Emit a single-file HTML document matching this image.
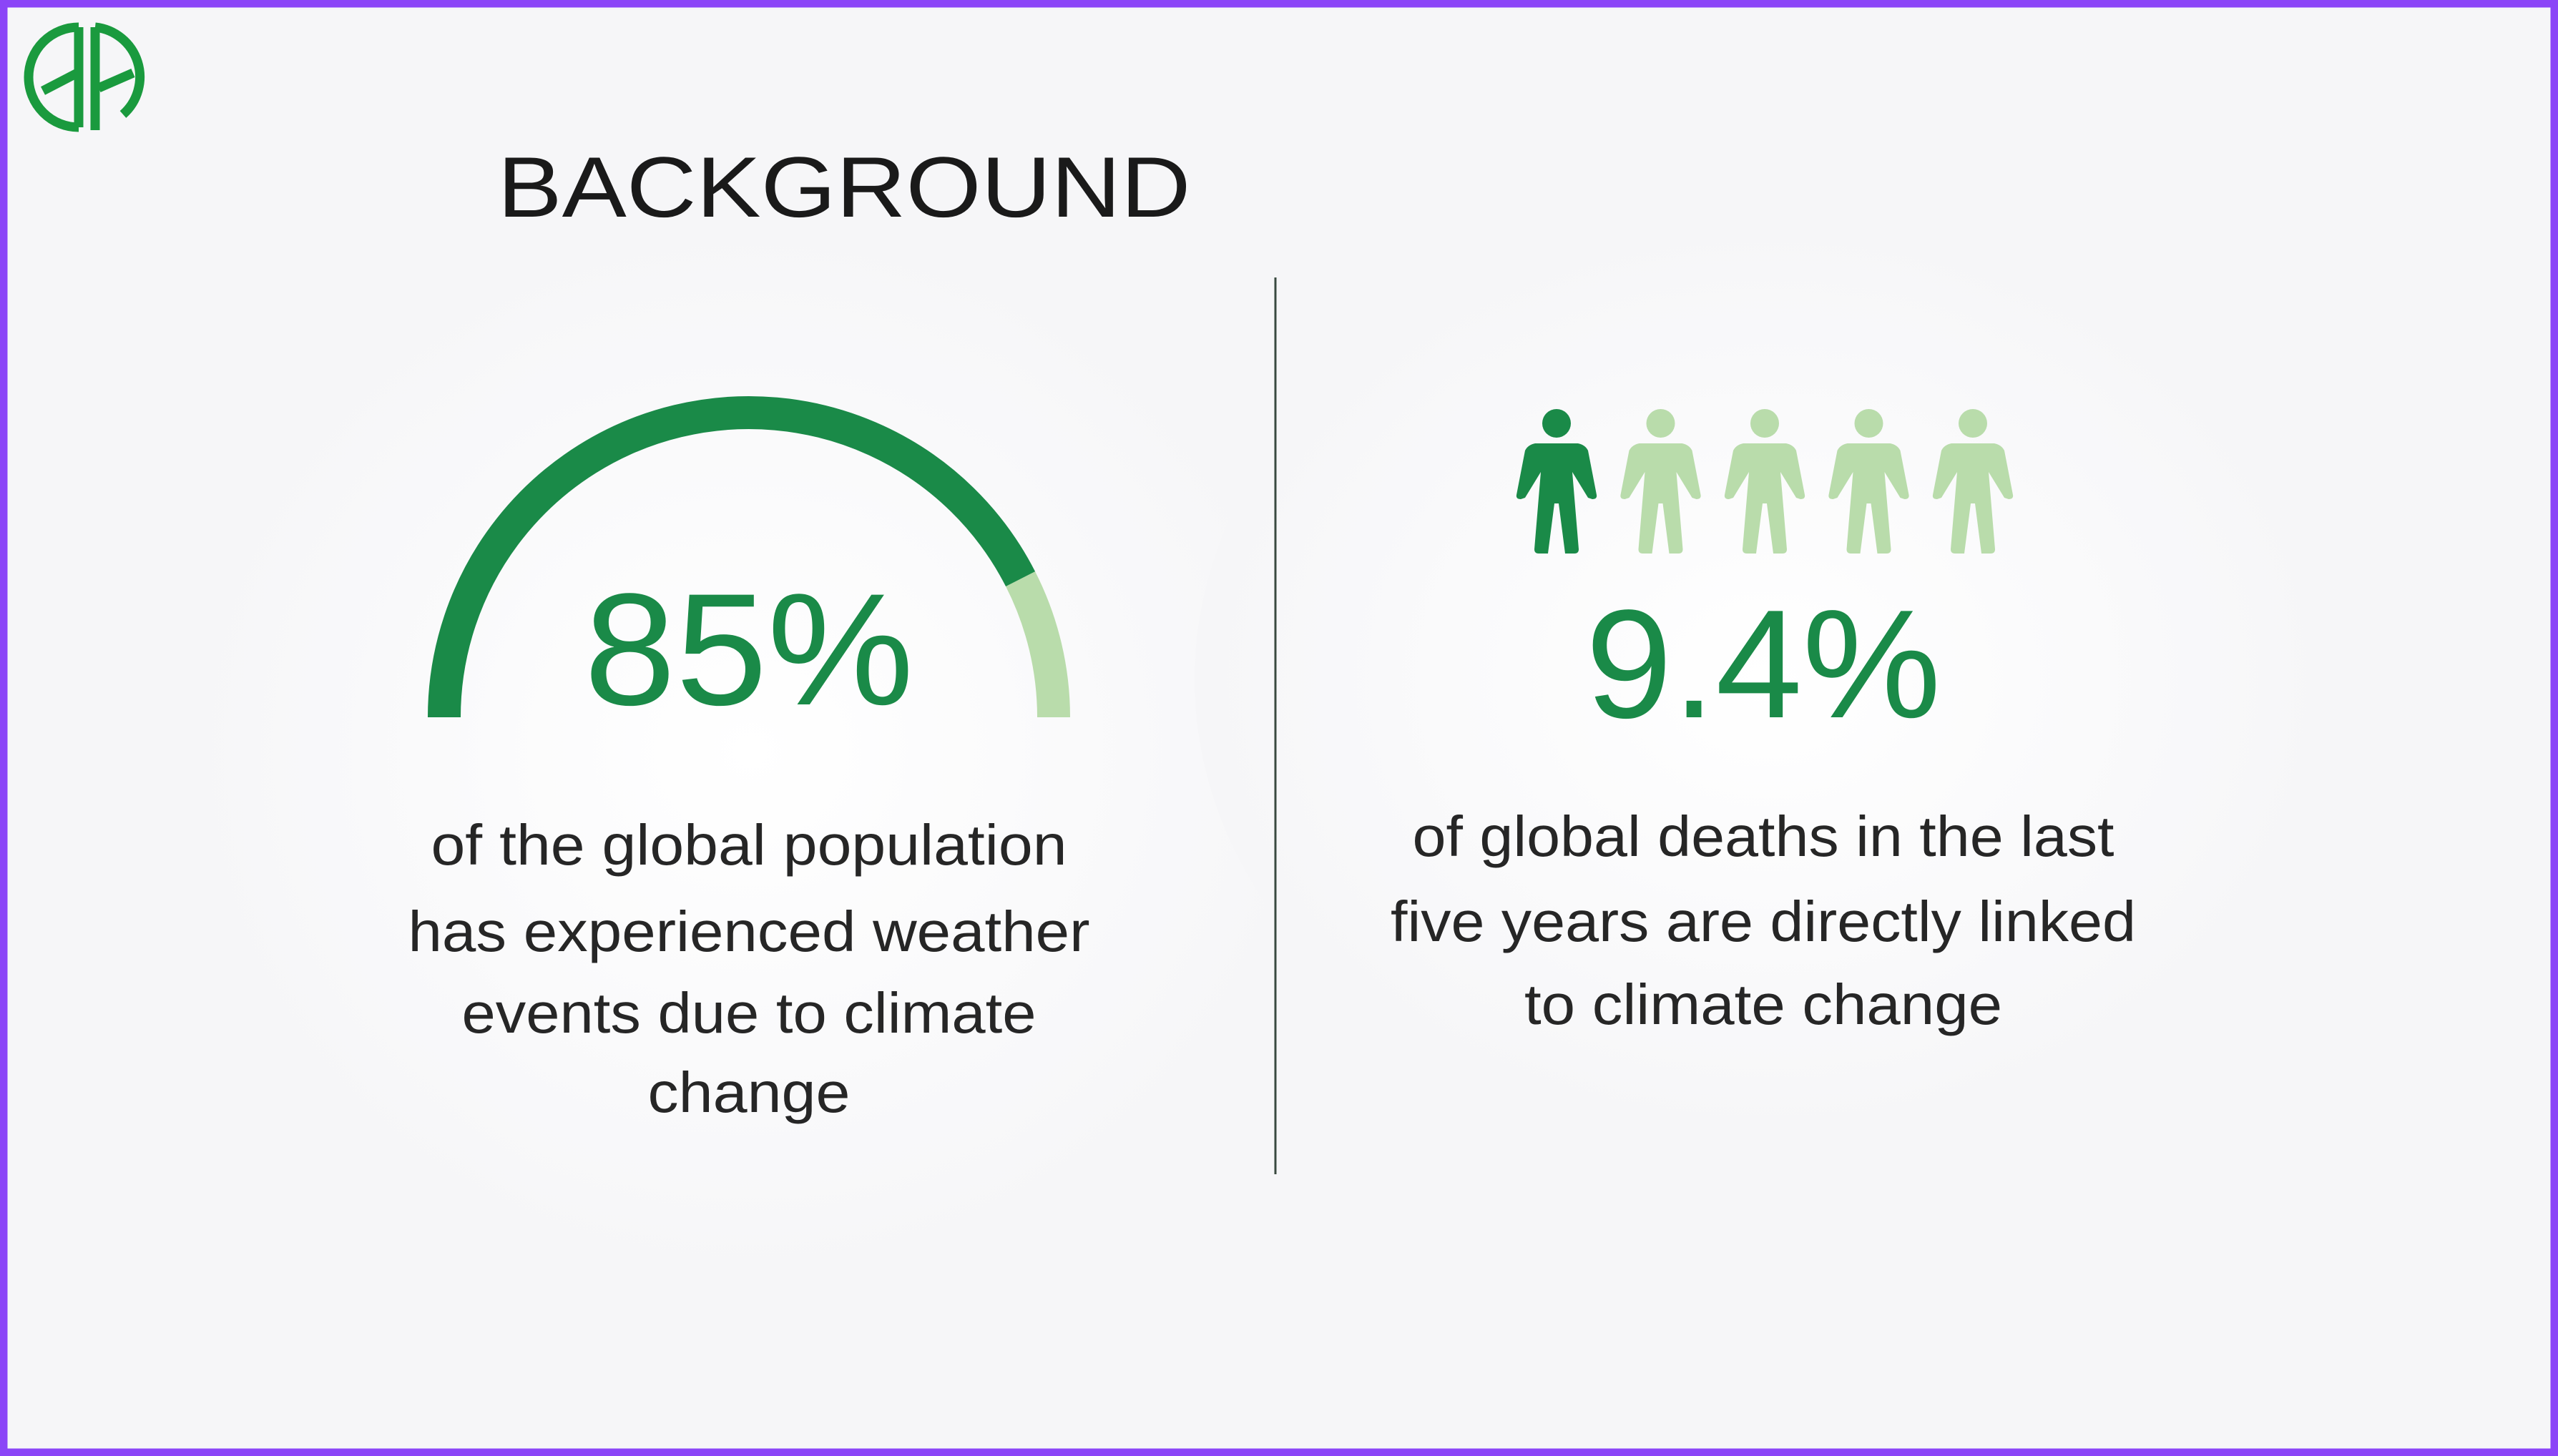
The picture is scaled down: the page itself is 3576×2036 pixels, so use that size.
<!DOCTYPE html>
<html><head><meta charset="utf-8"><style>
html,body{margin:0;padding:0;width:3576px;height:2036px;overflow:hidden;background:#f6f6f8;}
svg{display:block;font-family:"Liberation Sans",sans-serif;}
</style></head><body>
<svg id="chart" width="3576" height="2036" viewBox="0 0 3576 2036" xmlns="http://www.w3.org/2000/svg">
<defs>
<radialGradient id="glow" cx="50%" cy="50%" r="50%"><stop offset="0" stop-color="#ffffff"/><stop offset="1" stop-color="#f6f6f8"/></radialGradient>
</defs>
<rect width="3576" height="2036" fill="#f6f6f8"/>
<ellipse cx="1050" cy="1050" rx="800" ry="750" fill="url(#glow)"/>
<ellipse cx="2470" cy="950" rx="800" ry="650" fill="url(#glow)"/>
<rect x="5" y="5" width="3566" height="2026" fill="none" stroke="#8b45f7" stroke-width="11"/>
<g fill="none" stroke="#1a9a3e" stroke-width="13">
<path d="M110 38 A70 70 0 0 0 110 178"/>
<path d="M133 38 A70 70 0 0 1 172 160"/>
<line x1="110" y1="38" x2="110" y2="178"/>
<line x1="133" y1="38" x2="133" y2="182"/>
<line x1="60" y1="127" x2="112" y2="100"/>
<line x1="138" y1="123" x2="186" y2="102"/>
</g>
<text x="1180" y="303" font-size="120" fill="#1a1a1a" text-anchor="middle" textLength="969" lengthAdjust="spacingAndGlyphs">BACKGROUND</text>
<line x1="1783" y1="388" x2="1783" y2="1642" stroke="#3a4a40" stroke-width="3"/>
<g id="gauge"></g>
<text x="1047" y="985" font-size="223" fill="#1a8a48" text-anchor="middle" textLength="461" lengthAdjust="spacingAndGlyphs">85%</text>
<g fill="#262626" font-size="80" text-anchor="middle">
<text x="1047" y="1209" textLength="889" lengthAdjust="spacingAndGlyphs">of the global population</text>
<text x="1047" y="1330" textLength="953" lengthAdjust="spacingAndGlyphs">has experienced weather</text>
<text x="1047" y="1444" textLength="803" lengthAdjust="spacingAndGlyphs">events due to climate</text>
<text x="1047" y="1555" textLength="283" lengthAdjust="spacingAndGlyphs">change</text>
</g>
<g id="people"></g>
<text x="2465" y="1003" font-size="216" fill="#1a8a48" text-anchor="middle" textLength="497" lengthAdjust="spacingAndGlyphs">9.4%</text>
<g fill="#262626" font-size="80" text-anchor="middle">
<text x="2465" y="1197" textLength="981" lengthAdjust="spacingAndGlyphs">of global deaths in the last</text>
<text x="2465" y="1316" textLength="1042" lengthAdjust="spacingAndGlyphs">five years are directly linked</text>
<text x="2465" y="1432" textLength="668" lengthAdjust="spacingAndGlyphs">to climate change</text>
</g>
</svg>
<script>
const gaugeValue = [85];
const gaugeMax = [100];
const peopleFilled = [1];
const peopleTotal = [5];

const NS = "http://www.w3.org/2000/svg";
const DARK = "#1a8a48", LIGHT = "#b9dcab";
// gauge
(function(){
  const g = document.getElementById('gauge');
  const cx = 1047, cy = 1003, r = 426;
  function pt(frac){ const a = Math.PI * (1 - frac); return [cx + r*Math.cos(a), cy - r*Math.sin(a)]; }
  function arc(f0, f1, color, name){
    const p0 = pt(f0), p1 = pt(f1);
    const p = document.createElementNS(NS, 'path');
    p.setAttribute('d', `M${p0[0]} ${p0[1]} A${r} ${r} 0 0 1 ${p1[0]} ${p1[1]}`);
    p.setAttribute('fill', 'none');
    p.setAttribute('stroke', color);
    p.setAttribute('stroke-width', 46);
    
    
    g.appendChild(p);
  }
  const f = gaugeValue[0] / gaugeMax[0];
  arc(f, 1, LIGHT, 'gauge-remaining-arc');
  arc(0, f, DARK, 'gauge-value-arc');
})();
// people
(function(){
  const g = document.getElementById('people');
  const x0 = 2176, step = 145.5, top = 570;
  const body = "M-30 50 L30 50 Q40 52 44 60 L56 122 Q57 128 50 128 L44 126 L22 90 L31 198 Q31 204 25 204 L12 204 L3 134 L-3 134 L-12 204 L-25 204 Q-31 204 -31 198 L-22 90 L-44 126 L-50 128 Q-57 128 -56 122 L-44 60 Q-40 52 -30 50 Z";
  for (let i = 0; i < peopleTotal[0]; i++) {
    const grp = document.createElementNS(NS, 'g');
    grp.setAttribute('transform', `translate(${x0 + i*step},${top})`);
    grp.setAttribute('fill', i < peopleFilled[0] ? DARK : LIGHT);
    
    
    const c = document.createElementNS(NS, 'circle');
    c.setAttribute('cx', 0); c.setAttribute('cy', 22); c.setAttribute('r', 20);
    const p = document.createElementNS(NS, 'path');
    p.setAttribute('d', body);
    grp.appendChild(c); grp.appendChild(p);
    g.appendChild(grp);
  }
})();
</script>
</body></html>
